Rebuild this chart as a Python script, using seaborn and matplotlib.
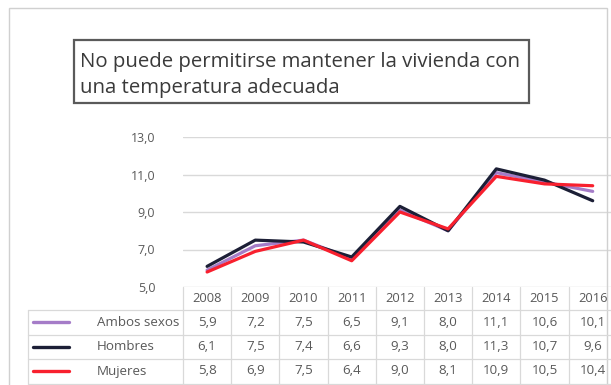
import matplotlib
matplotlib.use("Agg")
import matplotlib.pyplot as plt
from matplotlib.transforms import blended_transform_factory
from matplotlib.patches import Rectangle
import pandas as pd
import seaborn as sns

# Data
years = ["2008", "2009", "2010", "2011", "2012", "2013", "2014", "2015", "2016"]
ambos = [5.9, 7.2, 7.5, 6.5, 9.1, 8.0, 11.1, 10.6, 10.1]
hombres = [6.1, 7.5, 7.4, 6.6, 9.3, 8.0, 11.3, 10.7, 9.6]
mujeres = [5.8, 6.9, 7.5, 6.4, 9.0, 8.1, 10.9, 10.5, 10.4]
series_names = ["Ambos sexos", "Hombres", "Mujeres"]
y_ticks = [5.0, 7.0, 9.0, 11.0, 13.0]
title = "No puede permitirse mantener la vivienda con\nuna temperatura adecuada"

colors = {"Ambos sexos": "#a57cc8", "Hombres": "#1c1f36", "Mujeres": "#f8202e"}
text_gray = "#595959"
grid_gray = "#d9d9d9"

sns.set_theme(style="white")
plt.rcParams["font.family"] = ["Open Sans", "DejaVu Sans"]

W, H = 611, 385
fig = plt.figure(figsize=(W / 100, H / 100), dpi=100)
fig.patch.set_facecolor("white")

def fx(px):
    return px / W

def fy(py):
    return 1 - py / H

# Plot area
col_w = 48.2
left_px, top_px, bot_px = 183, 137, 287
right_px = left_px + col_w * len(years)
ax = fig.add_axes([fx(left_px), fy(bot_px), (right_px - left_px) / W, (bot_px - top_px) / H])

df = pd.DataFrame({
    "idx": list(range(len(years))) * 3,
    "valor": ambos + hombres + mujeres,
    "serie": [s for s in series_names for _ in years],
})
sns.lineplot(data=df, x="idx", y="valor", hue="serie", hue_order=series_names,
             palette=colors, linewidth=2.3, legend=False, ax=ax, zorder=3)

ax.set_xlim(-0.5, len(years) - 0.5)
ax.set_ylim(5, 13)
ax.set_yticks(y_ticks)
ax.set_yticklabels([f"{v:.1f}".replace(".", ",") for v in y_ticks])
ax.set_xticks([])
ax.set_xlabel("")
ax.set_ylabel("")
ax.tick_params(axis="y", length=0, pad=20, labelsize=9, labelcolor=text_gray)
for s in ax.spines.values():
    s.set_visible(False)
for v in y_ticks:
    ax.axhline(v, color=grid_gray, linewidth=1.0, zorder=1)

# Data table below the plot
tr = blended_transform_factory(ax.transData, fig.transFigure)
row_lines_px = [287, 310, 335, 359, 384]
row_centers_px = [298, 322, 347, 371]
table_left_px = 28

line_kw = dict(color=grid_gray, linewidth=0.9, clip_on=False)
# vertical separators between years
for i in range(len(years) + 1):
    x = i - 0.5
    fig.add_artist(plt.Line2D([x, x], [fy(row_lines_px[0]), fy(row_lines_px[-1])],
                              transform=tr, **line_kw))
# horizontal rules
for py in row_lines_px[1:]:
    fig.add_artist(plt.Line2D([fx(table_left_px), fx(W + 20)], [fy(py), fy(py)],
                              transform=fig.transFigure, **line_kw))
fig.add_artist(plt.Line2D([fx(table_left_px), fx(table_left_px)],
                          [fy(row_lines_px[1]), fy(row_lines_px[-1])],
                          transform=fig.transFigure, **line_kw))

for i, yr in enumerate(years):
    fig.text(i, fy(row_centers_px[0]), yr, transform=tr, ha="center", va="center",
             fontsize=9.3, color=text_gray)

for r, (name, vals) in enumerate(zip(series_names, [ambos, hombres, mujeres])):
    cy = fy(row_centers_px[r + 1])
    fig.add_artist(plt.Line2D([fx(33), fx(69)], [cy, cy], transform=fig.transFigure,
                              color=colors[name], linewidth=2.4))
    fig.text(fx(97), cy, name, ha="left", va="center", fontsize=9.6, color=text_gray)
    for i, v in enumerate(vals):
        fig.text(i, cy, f"{v:.1f}".replace(".", ","), transform=tr, ha="center",
                 va="center", fontsize=9.6, color=text_gray)

# Title box
fig.add_artist(Rectangle((fx(74), fy(103)), fx(529) - fx(74), fy(40) - fy(103),
                         transform=fig.transFigure, facecolor="white",
                         edgecolor="#5a5a5a", linewidth=1.6))
fig.text(fx(80), fy(75), title, ha="left", va="center", fontsize=14.7,
         color="#3a3a3a", linespacing=1.42)

# Chart frame
fig.add_artist(Rectangle((fx(9), fy(H + 10)), fx(607) - fx(9), fy(8) - fy(H + 10),
                         transform=fig.transFigure, facecolor="none",
                         edgecolor="#d0d0d0", linewidth=1.0))

fig.savefig("out.png", dpi=100, facecolor="white")
